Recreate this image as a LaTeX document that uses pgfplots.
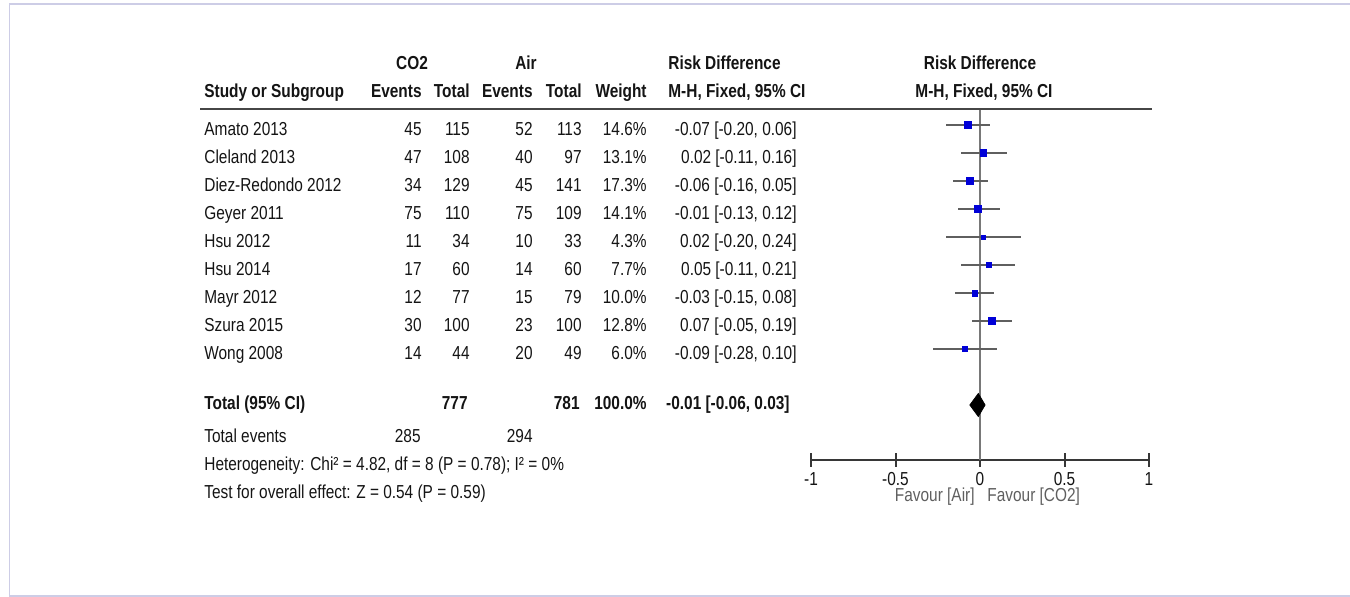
\documentclass[border=0pt]{standalone}
\usepackage{pgfplots}
\pgfplotsset{compat=1.18}
\usepackage{pgfplotstable}
\usepackage{fontspec}
\setmainfont{Liberation Sans}[FakeStretch=0.82]
\definecolor{txt}{RGB}{20,20,20}
\definecolor{frm}{RGB}{205,205,230}
\definecolor{ci}{RGB}{95,95,95}
\definecolor{zero}{RGB}{120,120,120}
\definecolor{fav}{RGB}{95,95,95}
\definecolor{axc}{RGB}{55,55,55}
\definecolor{hdr}{RGB}{70,70,70}
\definecolor{sq}{RGB}{0,0,215}
\newcommand{\fs}{\fontsize{9.4}{11}\selectfont}

\pgfplotstableread{
y rd lo hi w
-125 -0.07 -0.20 0.06 14.6
-153 0.02 -0.11 0.16 13.1
-181 -0.06 -0.16 0.05 17.3
-209 -0.01 -0.13 0.12 14.1
-237 0.02 -0.20 0.24 4.3
-265 0.05 -0.11 0.21 7.7
-293 -0.03 -0.15 0.08 10.0
-321 0.07 -0.05 0.19 12.8
-349 -0.09 -0.28 0.10 6.0
}\studies

\newcommand{\studyrow}[8]{%
 \node[anchor=base west] at (204,#1) {#2};
 \node[anchor=base east] at (422,#1) {#3};
 \node[anchor=base east] at (470,#1) {#4};
 \node[anchor=base east] at (533,#1) {#5};
 \node[anchor=base east] at (582,#1) {#6};
 \node[anchor=base east] at (647,#1) {#7\%};
 \node[anchor=base east] at (797,#1) {#8};
}

\begin{document}
\begin{tikzpicture}[font=\fs, text=txt]
\useasboundingbox (0,0) rectangle (675pt,-298.5pt);

\begin{axis}[
  at={(405.5pt,-230pt)}, anchor=south west,
  scale only axis, width=169pt, height=175pt,
  xmin=-1, xmax=1, ymin=-460, ymax=-110,
  enlargelimits=false, clip=false,
  axis x line*=bottom, axis y line=none,
  x axis line style={-, draw=axc, line width=1pt},
  xtick={-1,-0.5,0,0.5,1},
  xticklabels={-1,-0.5,0,0.5,1},
  tick align=center, major tick length=7pt,
  xtick style={draw=axc, line width=1pt},
  xticklabel style={font=\fs, text=txt, anchor=base, yshift=-9.5pt, inner sep=0pt},
]
\addplot[zero, line width=1.2pt] coordinates {(0,-110) (0,-460)};
\addplot[scatter, only marks, mark=square*,
  scatter/use mapped color={draw=sq, fill=sq},
  visualization depends on={\thisrow{w} \as \wt},
  scatter/@pre marker code/.append style={/tikz/mark size=0.46*sqrt(\wt)},
  error bars/.cd, x dir=both, x explicit, error mark=none,
  error bar style={ci, line width=1.35pt}]
  table[x=rd, y=y, x error plus expr=\thisrow{hi}-\thisrow{rd}, x error minus expr=\thisrow{rd}-\thisrow{lo}] {\studies};
\addplot[fill=black, draw=black] coordinates {(-0.06,-405) (-0.01,-393.5) (0.03,-405) (-0.01,-416.5)} -- cycle;
\end{axis}

\begin{scope}[x=0.5pt, y=-0.5pt, every node/.style={inner sep=0pt, text=txt}]
\draw[frm, line width=0.6pt] (9.5,597) -- (9.5,4) -- (1350,4);
\draw[frm, line width=0.6pt] (9.5,596) -- (1350,596);
\draw[hdr, line width=1pt] (200,109) -- (1152,109);

\begin{scope}[every node/.append style={font=\fs\bfseries}]
\node[anchor=base] at (412,70) {CO2};
\node[anchor=base] at (526,70) {Air};
\node[anchor=base west] at (668,70) {Risk Difference};
\node[anchor=base] at (980,70) {Risk Difference};
\node[anchor=base west] at (204,98) {Study or Subgroup};
\node[anchor=base east] at (422,98) {Events};
\node[anchor=base east] at (470,98) {Total};
\node[anchor=base east] at (533,98) {Events};
\node[anchor=base east] at (582,98) {Total};
\node[anchor=base east] at (647,98) {Weight};
\node[anchor=base west] at (668,98) {M-H, Fixed, 95\% CI};
\node[anchor=base] at (984,98) {M-H, Fixed, 95\% CI};
\end{scope}

\studyrow{136}{Amato 2013}{45}{115}{52}{113}{14.6}{-0.07 [-0.20, 0.06]}
\studyrow{164}{Cleland 2013}{47}{108}{40}{97}{13.1}{0.02 [-0.11, 0.16]}
\studyrow{192}{Diez-Redondo 2012}{34}{129}{45}{141}{17.3}{-0.06 [-0.16, 0.05]}
\studyrow{220}{Geyer 2011}{75}{110}{75}{109}{14.1}{-0.01 [-0.13, 0.12]}
\studyrow{248}{Hsu 2012}{11}{34}{10}{33}{4.3}{0.02 [-0.20, 0.24]}
\studyrow{276}{Hsu 2014}{17}{60}{14}{60}{7.7}{0.05 [-0.11, 0.21]}
\studyrow{304}{Mayr 2012}{12}{77}{15}{79}{10.0}{-0.03 [-0.15, 0.08]}
\studyrow{332}{Szura 2015}{30}{100}{23}{100}{12.8}{0.07 [-0.05, 0.19]}
\studyrow{360}{Wong 2008}{14}{44}{20}{49}{6.0}{-0.09 [-0.28, 0.10]}

\begin{scope}[every node/.append style={font=\fs\bfseries}]
\node[anchor=base west] at (204,410) {Total (95\% CI)};
\node[anchor=base east] at (468,410) {777};
\node[anchor=base east] at (580,410) {781};
\node[anchor=base east] at (647,410) {100.0\%};
\node[anchor=base east] at (790,410) {-0.01 [-0.06, 0.03]};
\end{scope}

\node[anchor=base west] at (204,443) {Total events};
\node[anchor=base east] at (421,443) {285};
\node[anchor=base east] at (533,443) {294};
\node[anchor=base west] at (204,471) {Heterogeneity: Chi² = 4.82, df = 8 (P = 0.78); I² = 0\%};
\node[anchor=base west] at (204,499) {Test for overall effect: Z = 0.54 (P = 0.59)};

\node[anchor=base east, text=fav] at (975,502) {Favour [Air]};
\node[anchor=base west, text=fav] at (987,502) {Favour [CO2]};
\end{scope}
\end{tikzpicture}
\end{document}
